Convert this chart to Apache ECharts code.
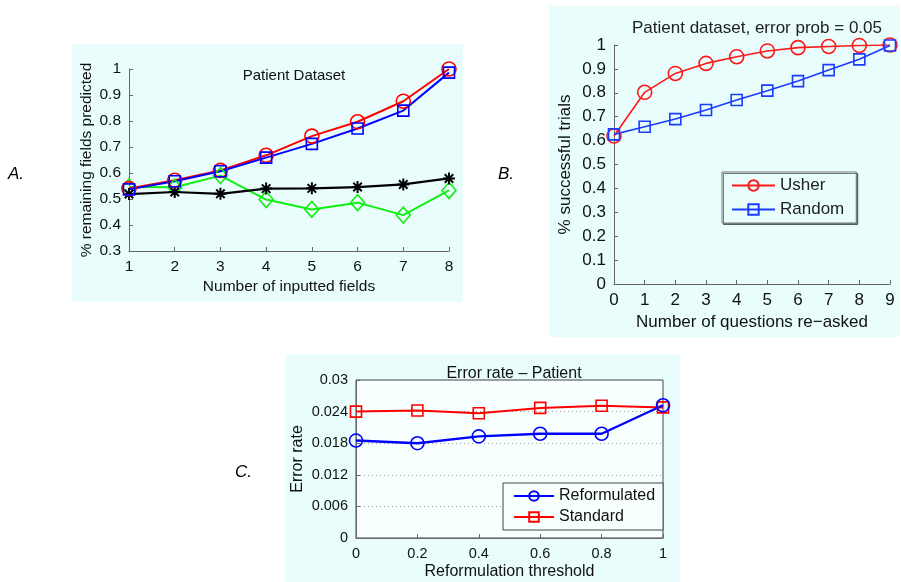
<!DOCTYPE html>
<html><head><meta charset="utf-8">
<script src="https://cdn.jsdelivr.net/npm/echarts@6/dist/echarts.min.js"></script>
<style>html,body{margin:0;padding:0;background:#fff}#c{width:901px;height:582px}</style>
</head><body><div id="c"></div>
<script>
// ---- Panel A data ----
const xA = [1, 2, 3, 4, 5, 6, 7, 8];
const aRed = [0.540, 0.572, 0.610, 0.668, 0.742, 0.797, 0.876, 1.000];
const aBlue = [0.537, 0.568, 0.607, 0.659, 0.712, 0.771, 0.840, 0.986];
const aGreen = [0.546, 0.545, 0.590, 0.498, 0.460, 0.486, 0.438, 0.533];
const aBlack = [0.519, 0.527, 0.520, 0.540, 0.541, 0.546, 0.556, 0.579];
// ---- Panel B data ----
const xB = [0, 1, 2, 3, 4, 5, 6, 7, 8, 9];
const bUsher = [0.619, 0.802, 0.881, 0.923, 0.951, 0.975, 0.989, 0.994, 0.998, 1.000];
const bRandom = [0.626, 0.658, 0.690, 0.728, 0.770, 0.809, 0.849, 0.895, 0.940, 0.998];
// ---- Panel C data ----
const xC = [0, 0.2, 0.4, 0.6, 0.8, 1];
const cReform = [0.0185, 0.0180, 0.0193, 0.0198, 0.0198, 0.0252];
const cStandard = [0.0240, 0.0242, 0.0237, 0.0247, 0.0251, 0.0248];

const zip = (xs, ys) => xs.map((x, i) => [x, ys[i]]);
const FONT = '"Liberation Sans", Arial, Helvetica, sans-serif';
const BG = '#e9fdfd';
const STAR = 'path://M-1,-6 L1,-6 L1,6 L-1,6 Z M-6,-1 L6,-1 L6,1 L-6,1 Z M3.54,4.95 L-4.95,-3.54 L-3.54,-4.95 L4.95,3.54 Z M4.95,-3.54 L-3.54,4.95 L-4.95,3.54 L3.54,-4.95 Z';

function hollow(name, xi, yi, data, color, symbol, size, lw) {
  return {
    type: 'line', name, xAxisIndex: xi, yAxisIndex: yi, data,
    symbol, symbolSize: size, showSymbol: true,
    lineStyle: { color, width: lw },
    itemStyle: { color: 'rgba(0,0,0,0)', borderColor: color, borderWidth: 1.6 },
    emphasis: { disabled: true }, animation: false
  };
}

function axisCommon(fs, nfs) {
  return {
    axisLine: { show: true, onZero: false, lineStyle: { color: '#666', width: 1 } },
    axisTick: { show: true, inside: true, length: 4, lineStyle: { color: '#666' } },
    axisLabel: { color: '#111', fontSize: fs, fontFamily: FONT },
    nameTextStyle: { color: '#111', fontSize: nfs, fontFamily: FONT },
    nameLocation: 'middle',
    splitLine: { show: false }
  };
}

const option = {
  animation: false,
  textStyle: { fontFamily: FONT },
  graphic: { elements: [
    { type: 'rect', z: -10, shape: { x: 72, y: 44, width: 391, height: 258 }, style: { fill: BG } },
    { type: 'rect', z: -10, shape: { x: 549, y: 6, width: 351, height: 331 }, style: { fill: BG } },
    { type: 'rect', z: -10, shape: { x: 286, y: 354, width: 394, height: 228 }, style: { fill: BG } },
    { type: 'text', x: 8, y: 174, style: { text: 'A.', font: 'italic 17px ' + FONT, fill: '#000', verticalAlign: 'middle' } },
    { type: 'text', x: 498, y: 174, style: { text: 'B.', font: 'italic 17px ' + FONT, fill: '#000', verticalAlign: 'middle' } },
    { type: 'text', x: 235, y: 472, style: { text: 'C.', font: 'italic 17px ' + FONT, fill: '#000', verticalAlign: 'middle' } }
  ] },
  title: [
    { text: 'Patient Dataset', left: 289, top: 63, textAlign: 'center',
      textStyle: { fontSize: 15, fontWeight: 'normal', color: '#111', fontFamily: FONT } },
    { text: 'Patient dataset, error prob = 0.05', left: 752, top: 15, textAlign: 'center',
      textStyle: { fontSize: 17, fontWeight: 'normal', color: '#222', fontFamily: FONT } },
    { text: 'Error rate \u2013 Patient', left: 509, top: 361, textAlign: 'center',
      textStyle: { fontSize: 16, fontWeight: 'normal', color: '#111', fontFamily: FONT } }
  ],
  legend: [
    { data: ['Usher', 'Random'], orient: 'vertical', left: 722, top: 172,
      itemWidth: 43, itemHeight: 13, itemGap: 7, padding: [5, 12, 5, 9],
      backgroundColor: BG, borderColor: '#777', borderWidth: 1,
      shadowColor: 'rgba(0,0,0,0.5)', shadowOffsetX: 1.5, shadowOffsetY: 1.5,
      textStyle: { fontSize: 17, color: '#222', fontFamily: FONT }, selectedMode: false },
    { data: ['Reformulated', 'Standard'], orient: 'vertical', left: 503, top: 483,
      itemWidth: 40, itemHeight: 12, itemGap: 5, padding: [5, 8, 5, 10],
      backgroundColor: '#f7ffff', borderColor: '#444', borderWidth: 1,
      textStyle: { fontSize: 16, color: '#111', fontFamily: FONT }, selectedMode: false }
  ],
  grid: [
    { left: 129, right: 452, top: 69, bottom: 331 },
    { left: 614, right: 11, top: 45, bottom: 298 },
    { left: 356, right: 238, top: 380, bottom: 44, show: true, backgroundColor: '#f7ffff', borderColor: '#444', borderWidth: 1 }
  ],
  xAxis: [
    Object.assign(axisCommon(15.5, 15.5), { gridIndex: 0, type: 'value', min: 1, max: 8, interval: 1,
      name: 'Number of inputted fields', nameGap: 28 }),
    Object.assign(axisCommon(17, 17), { gridIndex: 1, type: 'value', min: 0, max: 9, interval: 1,
      name: 'Number of questions re\u2212asked', nameGap: 30 }),
    Object.assign(axisCommon(14.5, 16), { gridIndex: 2, type: 'value', min: 0, max: 1, interval: 0.2,
      name: 'Reformulation threshold', nameGap: 26 })
  ],
  yAxis: [
    Object.assign(axisCommon(15.5, 15.5), { gridIndex: 0, type: 'value', min: 0.3, max: 1, interval: 0.1,
      name: '% remaining fields predicted', nameGap: 34 }),
    Object.assign(axisCommon(17, 17), { gridIndex: 1, type: 'value', min: 0, max: 1, interval: 0.1,
      name: '% successful trials', nameGap: 40 }),
    (() => { const a = Object.assign(axisCommon(14.5, 16), { gridIndex: 2, type: 'value', min: 0, max: 0.03, interval: 0.006,
      name: 'Error rate', nameGap: 50 });
      a.axisLabel.formatter = v => String(+v.toFixed(3));
      a.splitLine = { show: true, lineStyle: { color: '#999', type: [1, 3], width: 1 } };
      return a; })()
  ],
  series: [
    hollow('A-green', 0, 0, zip(xA, aGreen), '#11ee11', 'diamond', [14, 16], 2),
    Object.assign(hollow('A-black', 0, 0, zip(xA, aBlack), '#000', STAR, 12, 2.2),
      { itemStyle: { color: '#000' } }),
    hollow('A-red', 0, 0, zip(xA, aRed), '#ff0000', 'circle', 14, 2),
    hollow('A-blue', 0, 0, zip(xA, aBlue), '#0000ff', 'rect', 11, 2),
    hollow('Usher', 1, 1, zip(xB, bUsher), '#ff1a1a', 'circle', 14, 1.6),
    hollow('Random', 1, 1, zip(xB, bRandom), '#1a3cff', 'rect', 11, 1.6),
    hollow('Standard', 2, 2, zip(xC, cStandard), '#ff0000', 'rect', 11, 2),
    hollow('Reformulated', 2, 2, zip(xC, cReform), '#0000ff', 'circle', 13, 2.4)
  ]
};
echarts.init(document.getElementById('c'), null, { renderer: 'canvas' }).setOption(option);
</script>
</body></html>
